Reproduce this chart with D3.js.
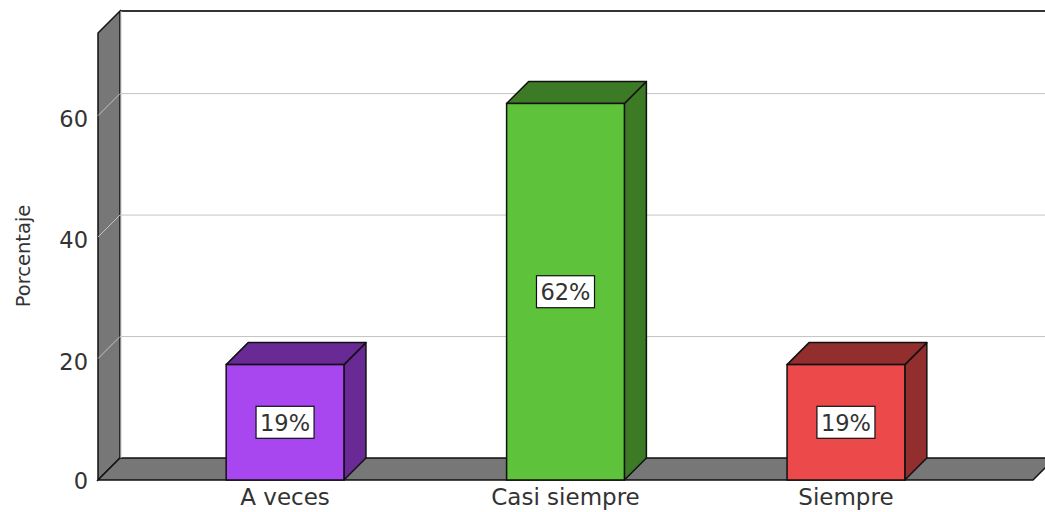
<!DOCTYPE html>
<html>
<head>
<meta charset="utf-8">
<script src="https://cdn.jsdelivr.net/npm/d3@7"></script>
<style>
  html, body { margin: 0; padding: 0; background: #fff; }
  svg { display: block; }
  text { font-family: "DejaVu Sans", sans-serif; fill: #333; }
</style>
</head>
<body>
<script>
const categories = ["A veces", "Casi siempre", "Siempre"];
const values = [19, 62, 19];
const valueLabels = ["19%", "62%", "19%"];
const frontColors = ["#a846f0", "#5ec23a", "#ec4a4a"];
const darkColors = ["#692a96", "#3d7a25", "#922e2e"];
const yTicks = [0, 20, 40, 60];
const yTitle = "Porcentaje";

const W = 1045, H = 512;
const DX = 22, DY = 22;
const x0 = 98, x1 = 1033, yBase = 480, yTop = 33;

const svg = d3.select("body").append("svg").attr("width", W).attr("height", H);

const y = d3.scaleLinear().domain([0, 73.6]).range([yBase, yTop]);
const x = d3.scaleBand().domain(categories).range([x0, x1]).paddingInner(0.58).paddingOuter(0.457);

// Back wall top border
svg.append("line").attr("x1", x0 + DX).attr("x2", W + 20).attr("y1", yTop - DY).attr("y2", yTop - DY)
  .attr("stroke", "#333").attr("stroke-width", 2);

// Left wall
svg.append("path")
  .attr("d", `M${x0},${yBase} L${x0},${yTop} L${x0 + DX},${yTop - DY} L${x0 + DX},${yBase - DY} Z`)
  .attr("fill", "#777").attr("stroke", "#111").attr("stroke-width", 1.5);

// Floor
svg.append("path")
  .attr("d", `M${x0},${yBase} L${x1},${yBase} L${x1 + DX},${yBase - DY} L${x0 + DX},${yBase - DY} Z`)
  .attr("fill", "#777").attr("stroke", "#111").attr("stroke-width", 1.5);

// Gridlines
const grid = svg.append("g");
yTicks.filter(t => t > 0).forEach(t => {
  grid.append("line").attr("x1", x0 + DX).attr("x2", W + 20)
    .attr("y1", y(t) - DY).attr("y2", y(t) - DY).attr("stroke", "#c4c4c4").attr("stroke-width", 1);
  grid.append("line").attr("x1", x0).attr("x2", x0 + DX)
    .attr("y1", y(t)).attr("y2", y(t) - DY).attr("stroke", "#c4c4c4").attr("stroke-width", 1);
});
svg.append("line").attr("x1", x0 + DX + 1).attr("x2", x0 + DX + 1).attr("y1", yTop - DY).attr("y2", yBase - DY)
  .attr("stroke", "#ccc").attr("stroke-width", 1);

// Y axis labels
const yAxis = d3.axisLeft(y).tickValues(yTicks).tickSize(0).tickPadding(10).tickFormat(d3.format("d"));
const gy = svg.append("g").attr("transform", `translate(${x0},0)`).call(yAxis);
gy.select(".domain").remove();
gy.selectAll("text").attr("font-size", 22.5).attr("font-family", "DejaVu Sans").attr("fill", "#333")
  .attr("dy", (d) => d === 0 ? "0.36em" : "0.48em");

// Y title
svg.append("text").attr("transform", `translate(30,${256}) rotate(-90)`)
  .attr("text-anchor", "middle").attr("font-size", 19.5).text(yTitle);

// Bars
const bars = svg.append("g").selectAll("g").data(categories).join("g");
bars.each(function (c, i) {
  const g = d3.select(this);
  const bx = x(c), bw = x.bandwidth(), by = y(values[i]);
  g.append("path")
    .attr("d", `M${bx + bw},${by} L${bx + bw + DX},${by - DY} L${bx + bw + DX},${yBase - DY} L${bx + bw},${yBase} Z`)
    .attr("fill", darkColors[i]).attr("stroke", "#111").attr("stroke-width", 1.5).attr("stroke-linejoin", "round");
  g.append("path")
    .attr("d", `M${bx},${by} L${bx + DX},${by - DY} L${bx + bw + DX},${by - DY} L${bx + bw},${by} Z`)
    .attr("fill", darkColors[i]).attr("stroke", "#111").attr("stroke-width", 1.5).attr("stroke-linejoin", "round");
  g.append("rect").attr("x", bx).attr("y", by).attr("width", bw).attr("height", yBase - by)
    .attr("fill", frontColors[i]).attr("stroke", "#111").attr("stroke-width", 1.5);
  const cx = bx + bw / 2, cy = (by + yBase) / 2;
  const t = g.append("text").attr("x", cx).attr("y", cy).attr("text-anchor", "middle")
    .attr("dy", "0.37em").attr("font-size", 22.5).text(valueLabels[i]);
  const tw = t.node().getComputedTextLength();
  g.insert("rect", "text").attr("x", cx - tw / 2 - 4).attr("y", cy - 16).attr("width", tw + 8).attr("height", 32)
    .attr("fill", "#fff").attr("stroke", "#111").attr("stroke-width", 1.2);
});

// X axis labels
const xAxis = d3.axisBottom(x).tickSize(0).tickPadding(9);
const gx = svg.append("g").attr("transform", `translate(0,${yBase})`).call(xAxis);
gx.select(".domain").remove();
gx.selectAll("text").attr("font-size", 23).attr("font-family", "DejaVu Sans").attr("fill", "#333");
</script>
</body>
</html>
